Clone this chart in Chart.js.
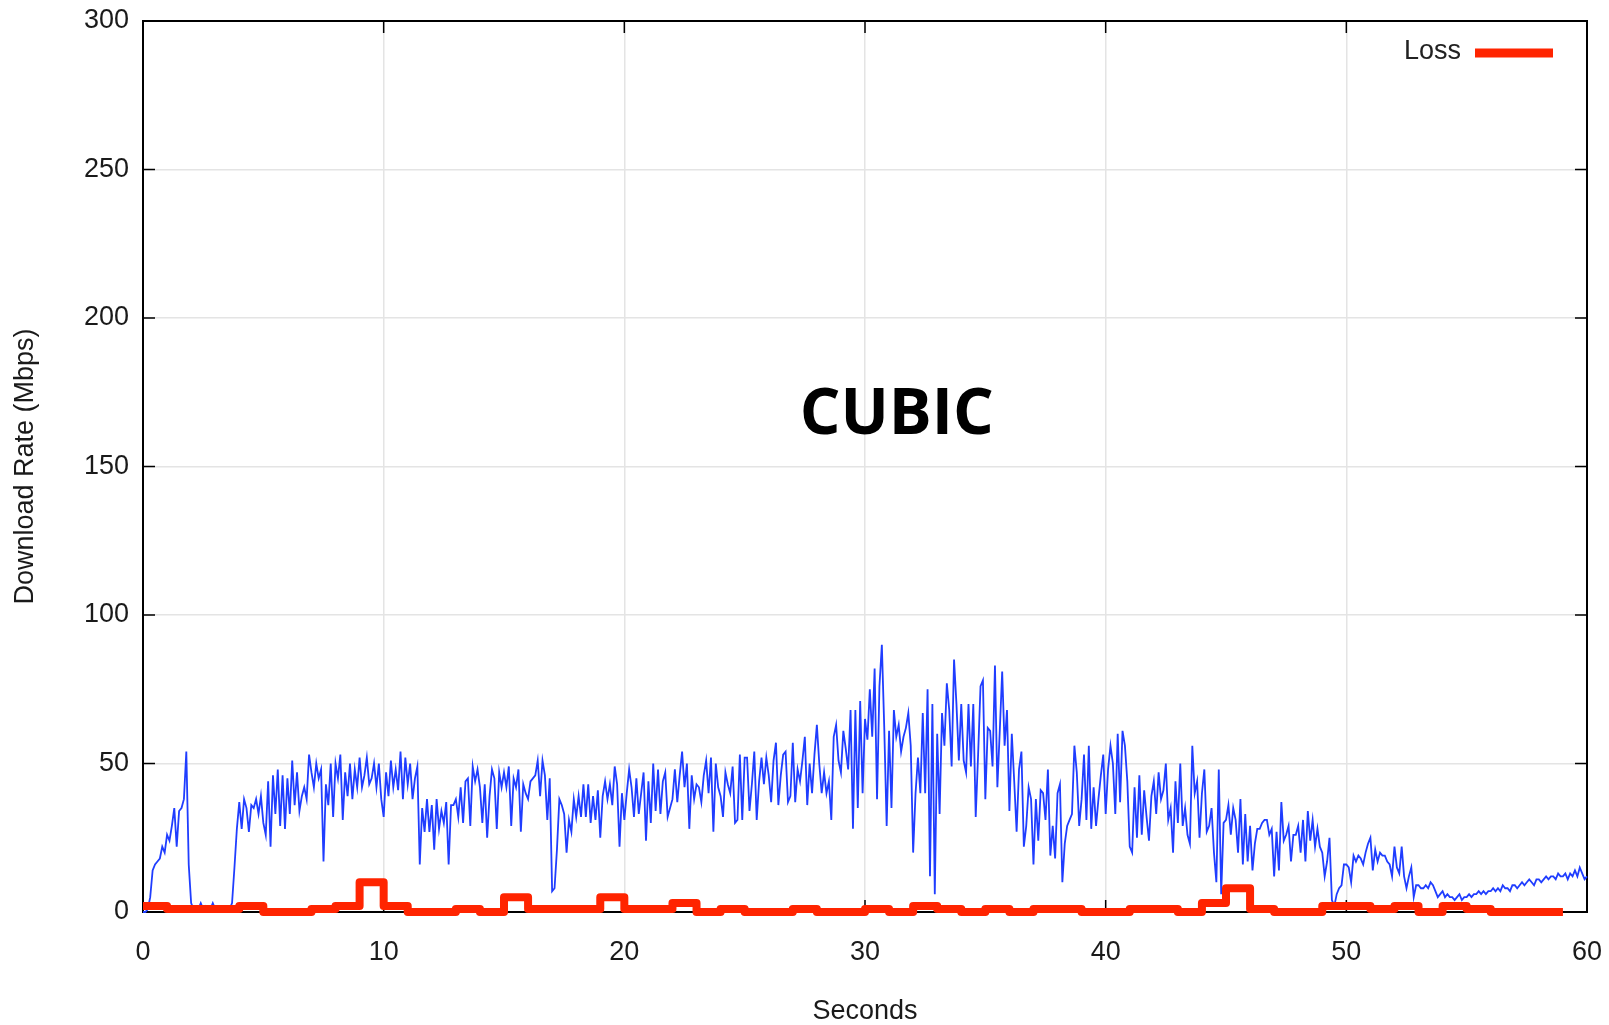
<!DOCTYPE html>
<html>
<head>
<meta charset="utf-8">
<title>CUBIC download rate</title>
<script src="https://cdn.jsdelivr.net/npm/chart.js@4.4.1/dist/chart.umd.min.js"></script>
<style>
    html, body { margin: 0; padding: 0; background: #fff; }
    #wrap { width: 1609px; height: 1025px; position: relative; }
</style>
</head>
<body>
<div id="wrap"><canvas id="rateChart"></canvas></div>
<script>
// 下载速率采样（每 0.1 秒一个点，单位 Mbps）
const SAMPLE_STEP = 0.1;
const rateMbps = [
    0, 0, 1, 5, 14, 16, 17, 18, 22, 20,
    26, 24, 29, 35, 22, 34, 35, 38, 54, 16,
    3, 1, 1, 1, 3, 1, 2, 1, 1, 3,
    1, 1, 1, 1, 1, 1, 1, 3, 15, 28,
    37, 28, 38, 35, 27, 36, 35, 38, 33, 39,
    30, 26, 44, 22, 46, 33, 48, 29, 46, 28,
    45, 33, 51, 36, 47, 34, 39, 42, 38, 53,
    47, 42, 50, 45, 48, 17, 43, 36, 50, 32,
    50, 45, 53, 31, 47, 39, 50, 38, 48, 42,
    52, 42, 46, 52, 43, 45, 50, 42, 50, 38,
    32, 47, 39, 51, 42, 48, 41, 54, 38, 52,
    43, 50, 38, 45, 49, 16, 35, 27, 38, 27,
    36, 21, 38, 28, 34, 30, 37, 16, 36, 36,
    38, 32, 42, 30, 44, 45, 29, 49, 44, 48,
    42, 30, 43, 25, 39, 48, 45, 28, 47, 42,
    47, 42, 49, 29, 45, 42, 48, 27, 43, 40,
    38, 44, 45, 46, 51, 39, 51, 46, 31, 45,
    7, 8, 21, 38, 36, 33, 20, 31, 27, 38,
    32, 39, 32, 43, 32, 43, 30, 39, 31, 41,
    25, 39, 44, 38, 43, 36, 49, 43, 22, 40,
    31, 40, 48, 42, 32, 45, 33, 40, 47, 24,
    44, 30, 50, 34, 48, 33, 44, 47, 32, 35,
    38, 48, 37, 46, 54, 42, 50, 28, 46, 38,
    43, 42, 37, 46, 51, 40, 52, 27, 50, 42,
    39, 32, 47, 43, 40, 49, 30, 31, 53, 31,
    52, 52, 34, 43, 54, 31, 44, 52, 43, 52,
    46, 37, 51, 57, 36, 46, 53, 54, 37, 39,
    57, 37, 48, 44, 51, 59, 36, 50, 40, 53,
    63, 50, 40, 47, 40, 44, 31, 59, 63, 51,
    47, 61, 55, 48, 68, 28, 68, 35, 71, 40,
    65, 58, 75, 59, 82, 38, 76, 90, 62, 29,
    61, 35, 68, 59, 63, 54, 59, 62, 67, 56,
    20, 40, 52, 40, 67, 40, 75, 12, 70, 6,
    60, 33, 67, 56, 77, 68, 49, 85, 70, 51,
    70, 51, 47, 70, 49, 70, 32, 53, 76, 78,
    38, 62, 61, 49, 83, 42, 61, 81, 56, 68,
    34, 60, 44, 27, 48, 54, 22, 29, 42, 38,
    16, 38, 24, 41, 40, 31, 48, 19, 29, 18,
    40, 43, 10, 23, 29, 31, 33, 56, 47, 29,
    38, 53, 31, 56, 28, 42, 29, 38, 46, 53,
    33, 48, 56, 50, 33, 60, 37, 61, 56, 44,
    22, 20, 42, 25, 46, 26, 41, 32, 24, 39,
    44, 33, 47, 38, 41, 50, 31, 35, 20, 44,
    30, 50, 29, 35, 26, 23, 56, 40, 44, 25,
    40, 48, 27, 29, 35, 20, 10, 48, 6, 30,
    31, 36, 26, 35, 31, 20, 38, 16, 33, 17,
    29, 14, 23, 28, 28, 30, 31, 31, 26, 28,
    12, 27, 14, 37, 24, 26, 29, 17, 26, 26,
    29, 20, 31, 17, 34, 24, 31, 22, 28, 22,
    20, 12, 17, 25, 4, 2, 6, 8, 9, 16,
    16, 15, 10, 19, 17, 19, 18, 16, 20, 23,
    25, 14, 21, 17, 20, 19, 19, 17, 16, 12,
    22, 15, 13, 22, 12, 8, 12, 15, 5, 9,
    9, 8, 8, 9, 8, 10, 9, 7, 5, 6,
    7, 5, 6, 5, 5, 4, 5, 6, 4, 5,
    5, 6, 5, 6, 6, 7, 6, 7, 6, 7,
    7, 8, 7, 8, 7, 9, 8, 8, 7, 9,
    9, 8, 9, 10, 9, 10, 11, 10, 9, 11,
    11, 10, 11, 12, 11, 12, 12, 11, 13, 12,
    12, 13, 11, 13, 12, 14, 12, 15, 13, 11,
    12
];

// 丢包（每秒一个值，阶梯线）
const lossSeconds = [
    0, 1, 2, 3, 4, 5, 6, 7, 8, 9,
    10, 11, 12, 13, 14, 15, 16, 17, 18, 19,
    20, 21, 22, 23, 24, 25, 26, 27, 28, 29,
    30, 31, 32, 33, 34, 35, 36, 37, 38, 39,
    40, 41, 42, 43, 44, 45, 46, 47, 48, 49,
    50, 51, 52, 53, 54, 55, 56, 57, 58, 59
];
const lossValues = [
    2, 1, 1, 1, 2, 0, 0, 1, 2, 10,
    2, 0, 0, 1, 0, 5, 1, 1, 1, 5,
    1, 1, 3, 0, 1, 0, 0, 1, 0, 0,
    1, 0, 2, 1, 0, 1, 0, 1, 1, 0,
    0, 1, 1, 0, 3, 8, 1, 0, 0, 2,
    2, 1, 2, 0, 2, 1, 0, 0, 0, 0
];

const xTicks = [0, 10, 20, 30, 40, 50, 60];
const yTicks = [0, 50, 100, 150, 200, 250, 300];

const CHART_TITLE = 'CUBIC';
const LOSS_LABEL = 'Loss';
const BLUE = '#1f3dff';
const RED = '#ff2400';
const FONT = '"Liberation Sans", Arial, sans-serif';
const TICK_LEN = 12;

// gnuplot 风格边框、内向刻度、标题和图例
const gnuplotDecor = {
    id: 'gnuplotDecor',
    beforeDatasetsDraw(chart) {
        const { ctx, chartArea: a, scales } = chart;
        ctx.save();
        ctx.strokeStyle = '#000';
        ctx.lineWidth = 2;
        ctx.strokeRect(a.left, a.top, a.right - a.left, a.bottom - a.top);
        ctx.lineWidth = 1.5;
        ctx.beginPath();
        xTicks.forEach(v => {
            const px = scales.x.getPixelForValue(v);
            ctx.moveTo(px, a.bottom);
            ctx.lineTo(px, a.bottom - TICK_LEN);
            ctx.moveTo(px, a.top);
            ctx.lineTo(px, a.top + TICK_LEN);
        });
        yTicks.forEach(v => {
            const py = scales.y.getPixelForValue(v);
            ctx.moveTo(a.left, py);
            ctx.lineTo(a.left + TICK_LEN, py);
            ctx.moveTo(a.right, py);
            ctx.lineTo(a.right - TICK_LEN, py);
        });
        ctx.stroke();
        ctx.restore();
    },
    afterDatasetsDraw(chart) {
        const { ctx, chartArea: a } = chart;
        ctx.save();
        // 图中标题
        ctx.fillStyle = '#000';
        ctx.font = 'bold 64px "Open Sans", sans-serif';
        ctx.textAlign = 'center';
        ctx.textBaseline = 'alphabetic';
        ctx.fillText(CHART_TITLE, a.left + (a.right - a.left) * 0.522, a.top + (a.bottom - a.top) * 0.4635);
        // 右上角图例：文字在左，线段在右
        const lineEnd = a.right - 34;
        const lineStart = lineEnd - 78;
        const ly = a.top + 32;
        ctx.strokeStyle = RED;
        ctx.lineWidth = 9;
        ctx.lineCap = 'butt';
        ctx.beginPath();
        ctx.moveTo(lineStart, ly);
        ctx.lineTo(lineEnd, ly);
        ctx.stroke();
        ctx.fillStyle = '#222';
        ctx.font = '27px ' + FONT;
        ctx.textAlign = 'right';
        ctx.textBaseline = 'middle';
        ctx.fillText(LOSS_LABEL, lineStart - 14, ly - 1);
        ctx.restore();
    }
};

function renderRateChart() {
    const ctx = document.getElementById('rateChart');

    new Chart(ctx, {
        type: 'line',
        data: {
            datasets: [{
                label: LOSS_LABEL,
                data: lossSeconds.map((s, i) => ({ x: s, y: lossValues[i] })),
                borderColor: RED,
                borderWidth: 8,
                stepped: 'before',
                borderJoinStyle: 'round',
                pointRadius: 0,
                clip: false
            }, {
                label: 'Download Rate',
                data: rateMbps.map((v, i) => ({ x: Math.round(i * SAMPLE_STEP * 10) / 10, y: v })),
                borderColor: BLUE,
                borderWidth: 1.8,
                tension: 0,
                pointRadius: 0,
                clip: false
            }]
        },
        options: {
            responsive: true,
            maintainAspectRatio: false,
            animation: false,
            layout: {
                padding: { left: 0, right: 22, top: 21, bottom: 0 }
            },
            plugins: {
                legend: { display: false },
                tooltip: { enabled: false }
            },
            scales: {
                x: {
                    type: 'linear',
                    min: 0,
                    max: 60,
                    afterFit: function(scale) {
                        scale.height = 113;
                        scale.paddingLeft = 0;
                        scale.paddingRight = 0;
                    },
                    afterBuildTicks: function(scale) {
                        scale.ticks = xTicks.map(v => ({ value: v }));
                    },
                    border: { display: false },
                    grid: {
                        color: '#e4e4e4',
                        lineWidth: 1.5,
                        drawTicks: false
                    },
                    ticks: {
                        color: '#1a1a1a',
                        font: { family: FONT, size: 27 },
                        padding: 24,
                        autoSkip: false,
                        maxRotation: 0
                    },
                    title: {
                        display: true,
                        text: 'Seconds',
                        color: '#1a1a1a',
                        font: { family: FONT, size: 27, lineHeight: 1 },
                        padding: { top: 0, bottom: 0 }
                    }
                },
                y: {
                    type: 'linear',
                    min: 0,
                    max: 300,
                    afterFit: function(scale) {
                        scale.width = 143;
                        scale.paddingTop = 0;
                        scale.paddingBottom = 0;
                    },
                    afterBuildTicks: function(scale) {
                        scale.ticks = yTicks.map(v => ({ value: v }));
                    },
                    border: { display: false },
                    grid: {
                        color: '#e4e4e4',
                        lineWidth: 1.5,
                        drawTicks: false
                    },
                    ticks: {
                        color: '#1a1a1a',
                        font: { family: FONT, size: 27 },
                        padding: 14
                    },
                    title: {
                        display: true,
                        text: 'Download Rate (Mbps)',
                        color: '#1a1a1a',
                        font: { family: FONT, size: 27, lineHeight: 1 },
                        padding: { top: 12, bottom: 0 }
                    }
                }
            }
        },
        plugins: [gnuplotDecor]
    });
}

renderRateChart();
</script>
</body>
</html>
